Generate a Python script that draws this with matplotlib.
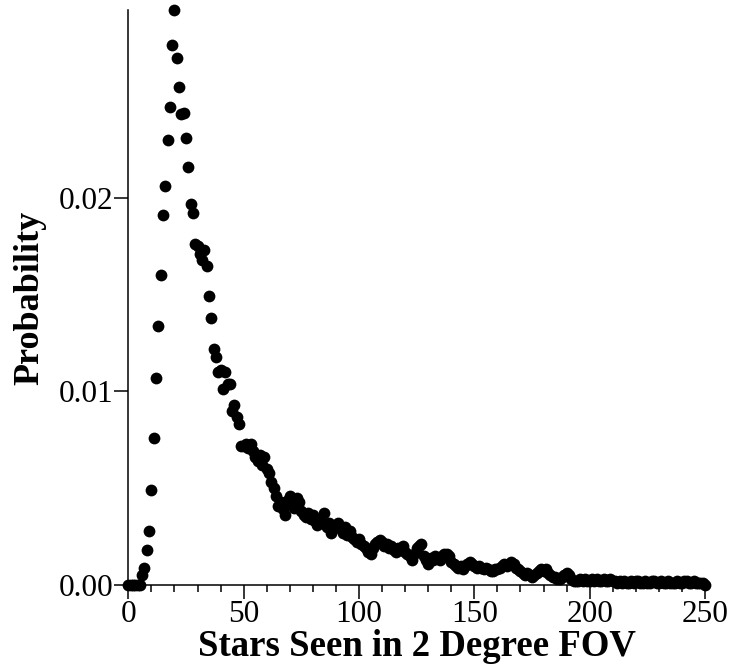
import numpy as np
import matplotlib
matplotlib.use("Agg")
import matplotlib.pyplot as plt
from matplotlib.ticker import MultipleLocator, FormatStrFormatter

# stars seen in the 2 degree field of view, one point per count 0..250
stars = np.arange(0, 251)
prob = [
    0, 0, 0, 0, 0, 0, 0.0005, 0.0009, 0.0018, 0.0028,
    0.0049, 0.0076, 0.0107, 0.0134, 0.0160, 0.0191, 0.0206, 0.0230, 0.0247, 0.0279,
    0.0297, 0.0272, 0.0257, 0.0243, 0.0244, 0.0231, 0.0216, 0.0197, 0.0192, 0.0176,
    0.0175, 0.0171, 0.0168, 0.0173, 0.0165, 0.0149, 0.0138, 0.0122, 0.0118, 0.0110,
    0.0111, 0.0101, 0.0110, 0.0104, 0.0104, 0.0090, 0.0093, 0.0087, 0.0083, 0.0072,
    0.0072, 0.0073, 0.0071, 0.0073, 0.0069, 0.0066, 0.0064, 0.0067, 0.0062, 0.0066,
    0.0060, 0.0058, 0.0053, 0.0050, 0.0046, 0.0041, 0.0043, 0.0039, 0.0036, 0.0044,
    0.0046, 0.0042, 0.0040, 0.0045, 0.0043, 0.0038, 0.0036, 0.0035, 0.0037, 0.0034,
    0.0036, 0.0033, 0.0031, 0.0034, 0.0032, 0.0037, 0.0030, 0.0032, 0.0027, 0.0030,
    0.0031, 0.0032, 0.0029, 0.0027, 0.0030, 0.0026, 0.0028, 0.0025, 0.0024, 0.0022,
    0.0024, 0.0021, 0.0020, 0.0019, 0.0017, 0.0016, 0.0019, 0.0021, 0.0022, 0.0023,
    0.0022, 0.0020, 0.0021, 0.0019, 0.0020, 0.0018, 0.0017, 0.0019, 0.0018, 0.0020,
    0.0017, 0.0016, 0.0015, 0.0013, 0.0016, 0.0019, 0.0020, 0.0021, 0.0015, 0.0013,
    0.0011, 0.0014, 0.0013, 0.0015, 0.0014, 0.0013, 0.0015, 0.0016, 0.0016, 0.0015,
    0.0012, 0.0011, 0.0010, 0.0009, 0.0010, 0.0008, 0.0010, 0.0011, 0.0012, 0.0011,
    0.0010, 0.0009, 0.0010, 0.0009, 0.0008, 0.0009, 0.0008, 0.0007, 0.0007, 0.0008,
    0.0008, 0.0009, 0.0010, 0.0011, 0.0010, 0.0011, 0.0012, 0.0011, 0.0009, 0.0008,
    0.0007, 0.0006, 0.0005, 0.0006, 0.0005, 0.0004, 0.0005, 0.0006, 0.0007, 0.0008,
    0.0007, 0.0008, 0.0006, 0.0005, 0.0004, 0.0004, 0.0003, 0.0003, 0.0004, 0.0005,
    0.0006, 0.0005, 0.0003, 0.0002, 0.0002, 0.0002, 0.0003, 0.0002, 0.0003, 0.0002,
    0.0002, 0.0003, 0.0002, 0.0003, 0.0002, 0.0002, 0.0003, 0.0002, 0.0002, 0.0003,
    0.0002, 0.0002, 0.0001, 0.0002, 0.0001, 0.0002, 0.0001, 0.0001, 0.0002, 0.0001,
    0.0002, 0.0002, 0.0001, 0.0001, 0.0002, 0.0001, 0.0001, 0.0002, 0.0002, 0.0001,
    0.0001, 0.0002, 0.0001, 0.0001, 0.0002, 0.0001, 0.0001, 0.0001, 0.0002, 0.0001,
    0.0001, 0.0002, 0.0002, 0.0001, 0.0001, 0.0002, 0.0001, 0.0001, 0.0001, 0.0001,
    0.0000,
]

plt.rcParams['font.family'] = ['Liberation Serif', 'DejaVu Serif']

fig = plt.figure(figsize=(7.3, 6.71), dpi=100)
ax = fig.add_axes([0.1758, 0.1282, 0.790, 0.857])

ax.scatter(stars, prob, s=72, color='black', linewidths=0, clip_on=False, zorder=3)

ax.set_xlim(0, 250)
ax.set_ylim(0, 0.0297)
ax.xaxis.set_major_locator(MultipleLocator(50))
ax.xaxis.set_minor_locator(MultipleLocator(10))
ax.yaxis.set_major_locator(MultipleLocator(0.01))
ax.yaxis.set_major_formatter(FormatStrFormatter('%.2f'))

for side in ['top', 'right']:
    ax.spines[side].set_visible(False)
for side in ['left', 'bottom']:
    ax.spines[side].set_linewidth(1.1)

ax.tick_params(which='major', direction='out', length=10, width=1.1, labelsize=22.5, pad=1)
ax.tick_params(which='minor', direction='out', length=5, width=1.1)

ax.set_xlabel('Stars Seen in 2 Degree FOV', fontsize=26.5, fontweight='bold', labelpad=0)
ax.set_ylabel('Probability', fontsize=26, fontweight='bold', labelpad=9)

fig.savefig('out.png', dpi=100)
